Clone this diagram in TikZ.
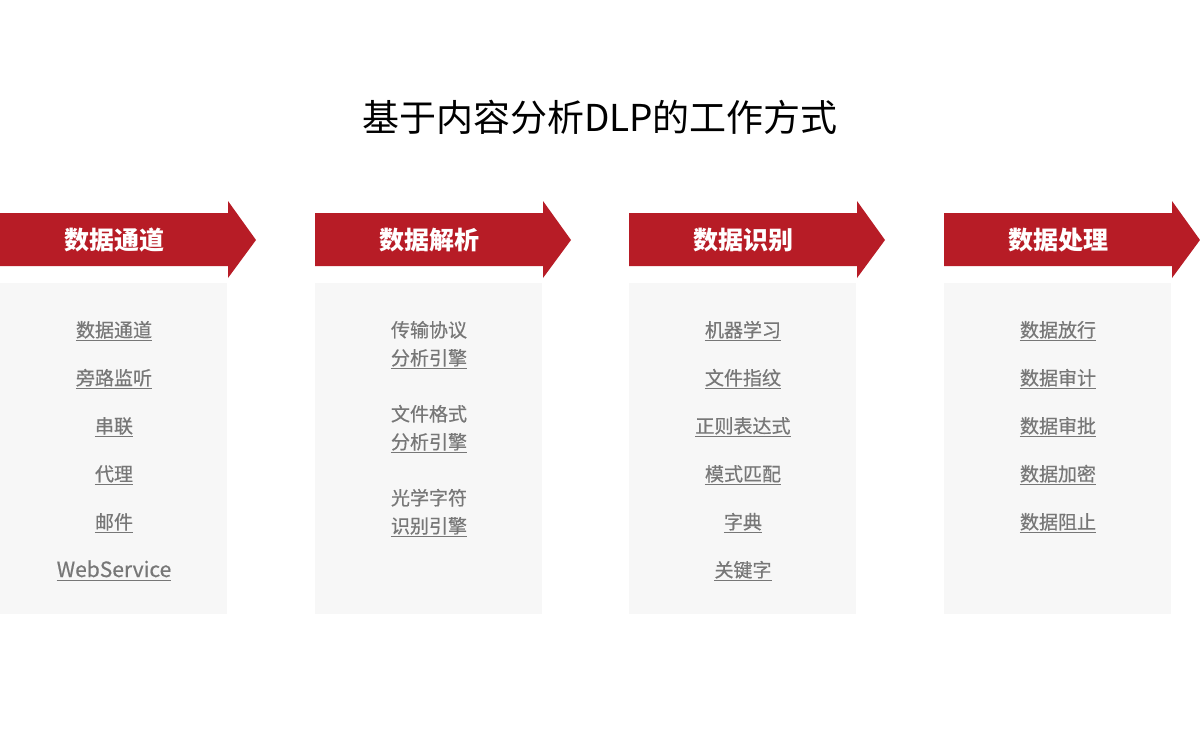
\documentclass[tikz,border=0pt]{standalone}
\usepackage{fontspec}
\setmainfont{Noto Sans CJK SC}
\newfontfamily\itemfont[FakeBold=0.5]{Noto Sans CJK SC}
\definecolor{dlpred}{HTML}{B71C26}
\definecolor{panelgray}{HTML}{F7F7F7}
\definecolor{itemgray}{HTML}{777777}
\tikzset{
	band/.style={fill=dlpred},
	panel/.style={fill=panelgray},
	head/.style={text=white, font=\fontsize{25}{25}\selectfont\bfseries},
	item/.style={text=itemgray, font=\fontsize{19}{28}\selectfont\itemfont, inner sep=0pt, text height=17pt, text depth=3pt},
	uline/.style={draw=itemgray, line width=1.2pt},
}

\begin{document}
\begin{tikzpicture}[x=1pt,y=-1pt]
	\useasboundingbox (0,0) rectangle (1200,729);
	\node (title) at (600,117) {\fontsize{37}{37}\selectfont 基于内容分析DLP的工作方式};
	% column 1
	\fill[band] (0,213) -- (228,213) -- (228,201) -- (256,240) -- (228,278) -- (228,266) -- (0,266) -- cycle;
	\fill[panel] (0,283) rectangle (227,614);
	\node[head] (h1) at (114,240) {数据通道};
	\node[item] (a1) at (114,330) {数据通道};
	\node[item] (a2) at (114,378) {旁路监听};
	\node[item] (a3) at (114,426) {串联};
	\node[item] (a4) at (114,474) {代理};
	\node[item] (a5) at (114,522) {邮件};
	\node[item, font=\fontsize{21}{28}\selectfont\itemfont] (a6) at (114,570) {WebService};
	\draw[uline] (a1.south west) -- (a1.south east);
	\draw[uline] (a2.south west) -- (a2.south east);
	\draw[uline] (a3.south west) -- (a3.south east);
	\draw[uline] (a4.south west) -- (a4.south east);
	\draw[uline] (a5.south west) -- (a5.south east);
	\draw[uline] (a6.south west) -- (a6.south east);
	% column 2
	\fill[band] (315,213) -- (543,213) -- (543,201) -- (571,240) -- (543,278) -- (543,266) -- (315,266) -- cycle;
	\fill[panel] (315,283) rectangle (542,614);
	\node[head] (h2) at (429,240) {数据解析};
	\node[item] (b1) at (429,330) {传输协议};
	\node[item] (b2) at (429,358) {分析引擎};
	\node[item] (b3) at (429,414) {文件格式};
	\node[item] (b4) at (429,442) {分析引擎};
	\node[item] (b5) at (429,498) {光学字符};
	\node[item] (b6) at (429,526) {识别引擎};
	\draw[uline] (b2.south west) -- (b2.south east);
	\draw[uline] (b4.south west) -- (b4.south east);
	\draw[uline] (b6.south west) -- (b6.south east);
	% column 3
	\fill[band] (629,213) -- (857,213) -- (857,201) -- (885,240) -- (857,278) -- (857,266) -- (629,266) -- cycle;
	\fill[panel] (629,283) rectangle (856,614);
	\node[head] (h3) at (743,240) {数据识别};
	\node[item] (c1) at (743,330) {机器学习};
	\node[item] (c2) at (743,378) {文件指纹};
	\node[item] (c3) at (743,426) {正则表达式};
	\node[item] (c4) at (743,474) {模式匹配};
	\node[item] (c5) at (743,522) {字典};
	\node[item] (c6) at (743,570) {关键字};
	\draw[uline] (c1.south west) -- (c1.south east);
	\draw[uline] (c2.south west) -- (c2.south east);
	\draw[uline] (c3.south west) -- (c3.south east);
	\draw[uline] (c4.south west) -- (c4.south east);
	\draw[uline] (c5.south west) -- (c5.south east);
	\draw[uline] (c6.south west) -- (c6.south east);
	% column 4
	\fill[band] (944,213) -- (1172,213) -- (1172,201) -- (1200,240) -- (1172,278) -- (1172,266) -- (944,266) -- cycle;
	\fill[panel] (944,283) rectangle (1171,614);
	\node[head] (h4) at (1058,240) {数据处理};
	\node[item] (d1) at (1058,330) {数据放行};
	\node[item] (d2) at (1058,378) {数据审计};
	\node[item] (d3) at (1058,426) {数据审批};
	\node[item] (d4) at (1058,474) {数据加密};
	\node[item] (d5) at (1058,522) {数据阻止};
	\draw[uline] (d1.south west) -- (d1.south east);
	\draw[uline] (d2.south west) -- (d2.south east);
	\draw[uline] (d3.south west) -- (d3.south east);
	\draw[uline] (d4.south west) -- (d4.south east);
	\draw[uline] (d5.south west) -- (d5.south east);
\end{tikzpicture}
\end{document}
